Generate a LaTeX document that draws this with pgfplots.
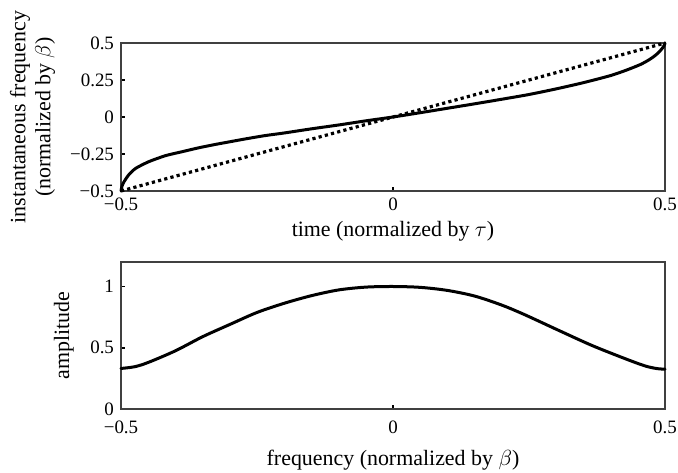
\documentclass[border=0pt]{standalone}
\usepackage{fontspec}
\setmainfont{Liberation Serif}
\usepackage{pgfplots}
\pgfplotsset{compat=1.18}

\pgfplotsset{
  panel/.style={
    scale only axis, width=272bp,
    xmin=-0.5, xmax=0.5,
    clip=false,
    axis line style={black!75, line width=0.8bp},
    tick style={black, line width=0.8bp},
    major tick length=2.2bp,
    tick align=inside, tick pos=left,
    xtick={-0.5,0,0.5},
    tick label style={font=\fontsize{9.5}{11}\selectfont},
    label style={font=\fontsize{11}{12.5}\selectfont, inner sep=0pt, align=center},
    /pgf/number format/assume math mode=true,
  },
  curve/.style={black, line width=1.5bp, line join=round, line cap=round},
}

\begin{document}
\begin{tikzpicture}
\useasboundingbox (0,0) rectangle (339bp,236.5bp);

% instantaneous frequency against time
\begin{axis}[panel,
  at={(60.5bp,141bp)}, anchor=south west, height=74bp,
  ymin=-0.5, ymax=0.5,
  ytick={-0.5,-0.25,0,0.25,0.5},
  yticklabels={−0.5,−0.25,0,0.25,0.5},
  xticklabels={−0.5\hspace{14bp},0,0.5\hspace{5bp}},
  xlabel={time (normalized by $\tau$)},
  xlabel style={at={(axis description cs:0.5,-0.205)}, anchor=north},
  ylabel={instantaneous frequency\\(normalized by $\beta$)},
  ylabel style={at={(axis description cs:-0.1627,0.5)}, anchor=center},
]
\addplot[black, line width=1.6bp, dash pattern=on 1.6bp off 1.6bp]
  coordinates {(-0.5,-0.5) (0.5,0.5)};
\addplot[curve, smooth, tension=0.4] coordinates {
  (-0.5,-0.5) (-0.498,-0.465) (-0.494,-0.435) (-0.486,-0.392)
  (-0.473,-0.347) (-0.449,-0.302) (-0.418,-0.261) (-0.387,-0.234)
  (-0.357,-0.208) (-0.326,-0.185) (-0.295,-0.164) (-0.265,-0.144)
  (-0.234,-0.125) (-0.2,-0.108) (-0.15,-0.08) (-0.1,-0.054)
  (-0.05,-0.026) (0,0) (0.05,0.029) (0.1,0.059) (0.15,0.089)
  (0.2,0.12) (0.25,0.152) (0.3,0.19) (0.35,0.232) (0.4,0.28)
  (0.43,0.318) (0.455,0.355) (0.47,0.385) (0.48,0.41) (0.488,0.435)
  (0.494,0.46) (0.498,0.48) (0.5,0.5)
};
\end{axis}

% amplitude spectrum
\begin{axis}[panel,
  at={(60.5bp,32bp)}, anchor=south west, height=73.5bp,
  ymin=0, ymax=1.2,
  ytick={0,0.5,1},
  yticklabels={0,0.5,1},
  xticklabels={−0.5\hspace{4bp},0,0.5\hspace{3bp}},
  xticklabel style={yshift=-2.5bp},
  xlabel={frequency (normalized by $\beta$)},
  xlabel style={at={(axis description cs:0.5,-0.279)}, anchor=north},
  ylabel={amplitude},
  ylabel style={at={(axis description cs:-0.105,0.5)}, anchor=center},
]
\addplot[curve, smooth, tension=0.5] coordinates {
  (-0.5,0.331) (-0.475,0.345) (-0.45,0.38) (-0.4,0.475)
  (-0.35,0.59) (-0.3,0.69) (-0.25,0.788) (-0.2,0.863)
  (-0.15,0.925) (-0.1,0.972) (-0.05,0.995) (0,1.0)
  (0.05,0.993) (0.1,0.968) (0.15,0.922) (0.2,0.848)
  (0.242,0.77) (0.303,0.645) (0.365,0.52) (0.426,0.412)
  (0.463,0.352) (0.485,0.33) (0.5,0.325)
};
\end{axis}
\end{tikzpicture}
\end{document}
